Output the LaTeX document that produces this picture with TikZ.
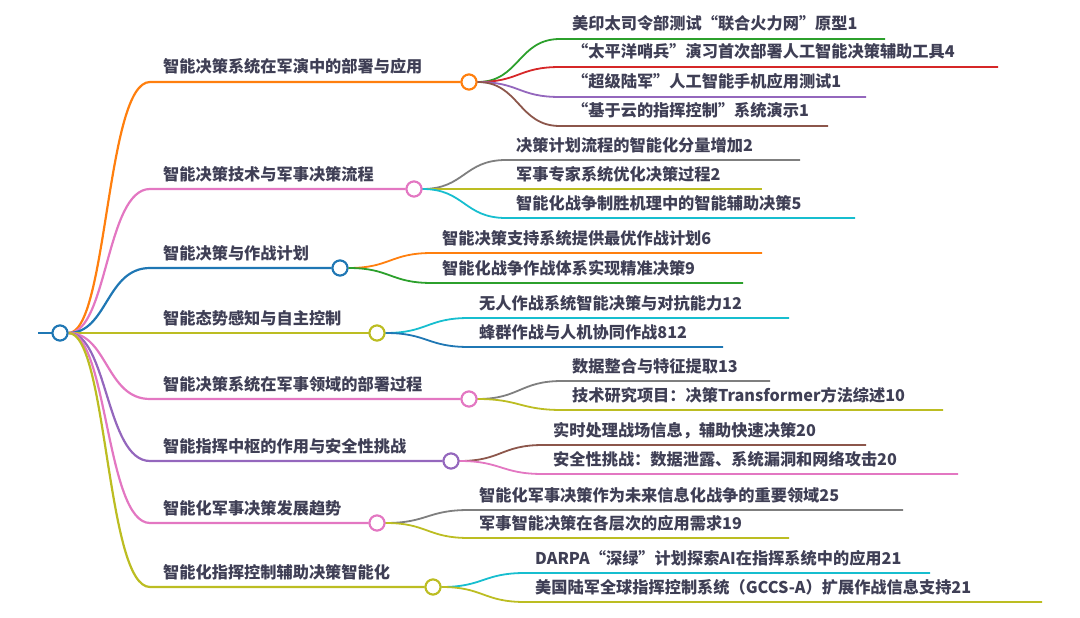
\documentclass[tikz,border=0pt]{standalone}
\usepackage{fontspec}
\setmainfont{Noto Sans CJK SC}
\usepackage{xcolor}
\definecolor{ink}{HTML}{3F3F55}
\definecolor{tabblue}{HTML}{1F77B4}
\definecolor{taborange}{HTML}{FF7F0E}
\definecolor{tabgreen}{HTML}{2CA02C}
\definecolor{tabred}{HTML}{D62728}
\definecolor{tabpurple}{HTML}{9467BD}
\definecolor{tabbrown}{HTML}{8C564B}
\definecolor{tabpink}{HTML}{E377C2}
\definecolor{tabgray}{HTML}{7F7F7F}
\definecolor{tabolive}{HTML}{BCBD22}
\definecolor{tabcyan}{HTML}{17BECF}

\begin{document}
\begin{tikzpicture}[x=1pt, y=-1pt,
  lvl1/.style={line width=2.2pt},
  lvl2/.style={line width=1.8pt},
  hub/.style={circle, draw=#1, line width=2pt, fill=white, minimum size=15pt, inner sep=0pt},
  topic/.style={anchor=base west, inner sep=0pt, text=ink, font=\fontsize{16.2}{19}\selectfont\bfseries},
  leaf/.style={topic}]
\useasboundingbox (0,0) rectangle (1080,618);
\coordinate (stub) at (38,333);
\draw[lvl1, tabblue] (stub) -- (52,333);
% first level
\coordinate (s1) at (150,82);  \coordinate (s2) at (150,189); \coordinate (s3) at (150,268); \coordinate (s4) at (150,333);
\coordinate (s5) at (150,399); \coordinate (s6) at (150,461); \coordinate (s7) at (150,523); \coordinate (s8) at (150,587);
\node[hub=taborange] (b1) at (469,82) {};
\node[hub=tabpink] (b2) at (414,189) {};
\node[hub=tabblue] (b3) at (340,268) {};
\node[hub=tabolive] (b4) at (377,333) {};
\node[hub=tabpink] (b5) at (469,399) {};
\node[hub=tabpurple] (b6) at (451,461) {};
\node[hub=tabpink] (b7) at (377,523) {};
\node[hub=tabolive] (b8) at (433,587) {};
\node[hub=tabblue] (root) at (60,333) {};
\draw[lvl1, taborange] (root.east) .. controls +(39,0) and +(-44,0) .. (s1) -- (b1.west);
\draw[lvl1, tabpink] (root.east) .. controls +(39,0) and +(-44,0) .. (s2) -- (b2.west);
\draw[lvl1, tabblue] (root.east) .. controls +(39,0) and +(-44,0) .. (s3) -- (b3.west);
\draw[lvl1, tabolive] (root.east) -- (b4.west);
\draw[lvl1, tabpink] (root.east) .. controls +(39,0) and +(-44,0) .. (s5) -- (b5.west);
\draw[lvl1, tabpurple] (root.east) .. controls +(39,0) and +(-44,0) .. (s6) -- (b6.west);
\draw[lvl1, tabpink] (root.east) .. controls +(39,0) and +(-44,0) .. (s7) -- (b7.west);
\draw[lvl1, tabolive] (root.east) .. controls +(39,0) and +(-44,0) .. (s8) -- (b8.west);
\node[hub=tabblue] at (root) {};
\node[topic] (t1) at (163,73) {智能决策系统在军演中的部署与应用};
\node[topic] (t2) at (163,180) {智能决策技术与军事决策流程};
\node[topic] (t3) at (163,259) {智能决策与作战计划};
\node[topic] (t4) at (163,324) {智能态势感知与自主控制};
\node[topic] (t5) at (163,390) {智能决策系统在军事领域的部署过程};
\node[topic] (t6) at (163,452) {智能指挥中枢的作用与安全性挑战};
\node[topic] (t7) at (163,514) {智能化军事决策发展趋势};
\node[topic] (t8) at (163,578) {智能化指挥控制辅助决策智能化};
% second level
\coordinate (s1a) at (560,39);  \coordinate (s1b) at (560,67);  \coordinate (s1c) at (560,97);  \coordinate (s1d) at (560,126);
\coordinate (s2a) at (506,160); \coordinate (s2b) at (506,189); \coordinate (s2c) at (506,218);
\coordinate (s3a) at (432,253); \coordinate (s3b) at (432,283);
\coordinate (s4a) at (469,318); \coordinate (s4b) at (469,347);
\coordinate (s5a) at (562,381); \coordinate (s5b) at (562,410);
\coordinate (s6a) at (543,445); \coordinate (s6b) at (543,474);
\coordinate (s7a) at (469,510); \coordinate (s7b) at (469,538);
\coordinate (s8a) at (525,573); \coordinate (s8b) at (525,602);
\draw[lvl2, tabgreen] (b1.east) .. controls +(42,0) and +(-42,0) .. (s1a) -- ++(325,0);
\draw[lvl2, tabred] (b1.east) .. controls +(42,0) and +(-42,0) .. (s1b) -- ++(438,0);
\draw[lvl2, tabpurple] (b1.east) .. controls +(42,0) and +(-42,0) .. (s1c) -- ++(306,0);
\draw[lvl2, tabbrown] (b1.east) .. controls +(42,0) and +(-42,0) .. (s1d) -- ++(268,0);
\draw[lvl2, tabgray] (b2.east) .. controls +(42,0) and +(-42,0) .. (s2a) -- ++(294,0);
\draw[lvl2, tabolive] (b2.east) -- (s2b) -- ++(256,0);
\draw[lvl2, tabcyan] (b2.east) .. controls +(42,0) and +(-42,0) .. (s2c) -- ++(349,0);
\draw[lvl2, taborange] (b3.east) .. controls +(42,0) and +(-42,0) .. (s3a) -- ++(330,0);
\draw[lvl2, tabgreen] (b3.east) .. controls +(42,0) and +(-42,0) .. (s3b) -- ++(311,0);
\draw[lvl2, tabcyan] (b4.east) .. controls +(42,0) and +(-42,0) .. (s4a) -- ++(320,0);
\draw[lvl2, tabblue] (b4.east) .. controls +(42,0) and +(-42,0) .. (s4b) -- ++(254,0);
\draw[lvl2, tabgray] (b5.east) .. controls +(42,0) and +(-42,0) .. (s5a) -- ++(208,0);
\draw[lvl2, tabolive] (b5.east) .. controls +(42,0) and +(-42,0) .. (s5b) -- ++(381,0);
\draw[lvl2, tabbrown] (b6.east) .. controls +(42,0) and +(-42,0) .. (s6a) -- ++(323,0);
\draw[lvl2, tabpink] (b6.east) .. controls +(42,0) and +(-42,0) .. (s6b) -- ++(415,0);
\draw[lvl2, tabgray] (b7.east) .. controls +(42,0) and +(-42,0) .. (s7a) -- ++(434,0);
\draw[lvl2, tabolive] (b7.east) .. controls +(42,0) and +(-42,0) .. (s7b) -- ++(320,0);
\draw[lvl2, tabcyan] (b8.east) .. controls +(42,0) and +(-42,0) .. (s8a) -- ++(405,0);
\draw[lvl2, tabolive] (b8.east) .. controls +(42,0) and +(-42,0) .. (s8b) -- ++(517,0);
\node[hub=taborange] at (b1) {}; \node[hub=tabpink] at (b2) {}; \node[hub=tabblue] at (b3) {}; \node[hub=tabolive] at (b4) {};
\node[hub=tabpink] at (b5) {}; \node[hub=tabpurple] at (b6) {}; \node[hub=tabpink] at (b7) {}; \node[hub=tabolive] at (b8) {};
\node[leaf] (l1a) at (572,30) {美印太司令部测试“联合火力网”原型1};
\node[leaf] (l1b) at (572,58) {“太平洋哨兵”演习首次部署人工智能决策辅助工具4};
\node[leaf] (l1c) at (572,88) {“超级陆军”人工智能手机应用测试1};
\node[leaf] (l1d) at (572,117) {“基于云的指挥控制”系统演示1};
\node[leaf] (l2a) at (516,151) {决策计划流程的智能化分量增加2};
\node[leaf] (l2b) at (516,180) {军事专家系统优化决策过程2};
\node[leaf] (l2c) at (516,209) {智能化战争制胜机理中的智能辅助决策5};
\node[leaf] (l3a) at (442,244) {智能决策支持系统提供最优作战计划6};
\node[leaf] (l3b) at (442,274) {智能化战争作战体系实现精准决策9};
\node[leaf] (l4a) at (479,309) {无人作战系统智能决策与对抗能力12};
\node[leaf] (l4b) at (479,338) {蜂群作战与人机协同作战812};
\node[leaf] (l5a) at (572,372) {数据整合与特征提取13};
\node[leaf] (l5b) at (572,401) {技术研究项目：决策Transformer方法综述10};
\node[leaf] (l6a) at (553,436) {实时处理战场信息，辅助快速决策20};
\node[leaf] (l6b) at (553,465) {安全性挑战：数据泄露、系统漏洞和网络攻击20};
\node[leaf] (l7a) at (479,501) {智能化军事决策作为未来信息化战争的重要领域25};
\node[leaf] (l7b) at (479,529) {军事智能决策在各层次的应用需求19};
\node[leaf] (l8a) at (535,564) {DARPA“深绿”计划探索AI在指挥系统中的应用21};
\node[leaf] (l8b) at (535,593) {美国陆军全球指挥控制系统（GCCS-A）扩展作战信息支持21};
\end{tikzpicture}
\end{document}
